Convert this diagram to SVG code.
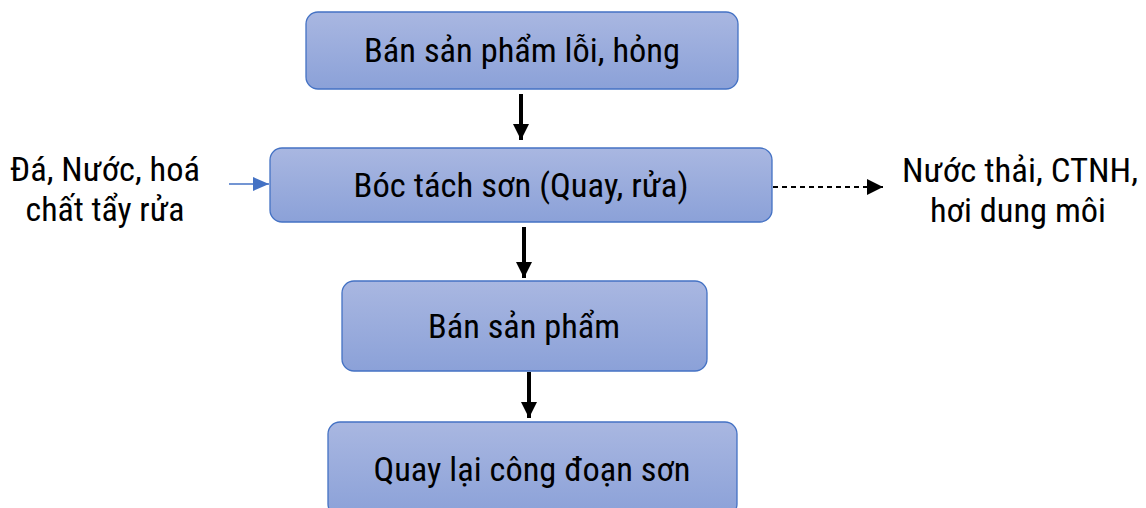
<svg xmlns="http://www.w3.org/2000/svg" width="1146" height="508" viewBox="0 0 1146 508">
<defs>
<linearGradient id="g" x1="0" y1="0" x2="0" y2="1">
<stop offset="0" stop-color="#a9b7e1"/>
<stop offset="1" stop-color="#8ba1d8"/>
</linearGradient>
<marker id="ab" markerUnits="userSpaceOnUse" markerWidth="16" markerHeight="16" refX="16" refY="8" orient="auto">
<path d="M0,0 L16,8 L0,16 Z" fill="#000"/>
</marker>
<marker id="ablue" markerUnits="userSpaceOnUse" markerWidth="16" markerHeight="14" refX="16" refY="7" orient="auto">
<path d="M0,0 L16,7 L0,14 Z" fill="#4472c4"/>
</marker>
</defs>
<style>
.box{fill:url(#g);stroke:#4472c4;stroke-width:1.3}
.t{font-family:"Roboto Condensed",Roboto,"Liberation Sans",sans-serif;font-size:33px;fill:#000;text-anchor:middle}
.c{fill:none;stroke:#000;stroke-width:4}
</style>
<g id="connectors">
<line class="c" x1="521" y1="94" x2="521" y2="140" marker-end="url(#ab)"/>
<line class="c" x1="524" y1="227" x2="524" y2="278" marker-end="url(#ab)"/>
<line class="c" x1="529" y1="372" x2="529" y2="418" marker-end="url(#ab)"/>
<line x1="229" y1="184" x2="269" y2="184" stroke="#4472c4" stroke-width="1.5" marker-end="url(#ablue)"/>
<line x1="773" y1="187" x2="883" y2="187" stroke="#000" stroke-width="2" stroke-dasharray="5,4" marker-end="url(#ab)"/>
</g>
<g id="n1">
<rect class="box" x="306" y="12" width="432" height="77" rx="12"/>
<text class="t" x="522" y="62" textLength="316" lengthAdjust="spacingAndGlyphs">Bán sản phẩm lỗi, hỏng</text>
</g>
<g id="n2">
<rect class="box" x="270" y="148" width="502" height="74" rx="12"/>
<text class="t" x="521" y="197" textLength="335" lengthAdjust="spacingAndGlyphs">Bóc tách sơn (Quay, rửa)</text>
</g>
<g id="n3">
<rect class="box" x="342" y="281" width="365" height="90" rx="12"/>
<text class="t" x="524" y="338" textLength="192" lengthAdjust="spacingAndGlyphs">Bán sản phẩm</text>
</g>
<g id="n4">
<rect class="box" x="328" y="422" width="409" height="94" rx="12"/>
<text class="t" x="532" y="481" textLength="317" lengthAdjust="spacingAndGlyphs">Quay lại công đoạn sơn</text>
</g>
<g id="in">
<text class="t" x="105" y="181" textLength="190" lengthAdjust="spacingAndGlyphs">Đá, Nước, hoá</text>
<text class="t" x="105" y="221" textLength="159" lengthAdjust="spacingAndGlyphs">chất tẩy rửa</text>
</g>
<g id="out">
<text class="t" x="1020" y="182" textLength="236" lengthAdjust="spacingAndGlyphs">Nước thải, CTNH,</text>
<text class="t" x="1018" y="222" textLength="176" lengthAdjust="spacingAndGlyphs">hơi dung môi</text>
</g>
</svg>
